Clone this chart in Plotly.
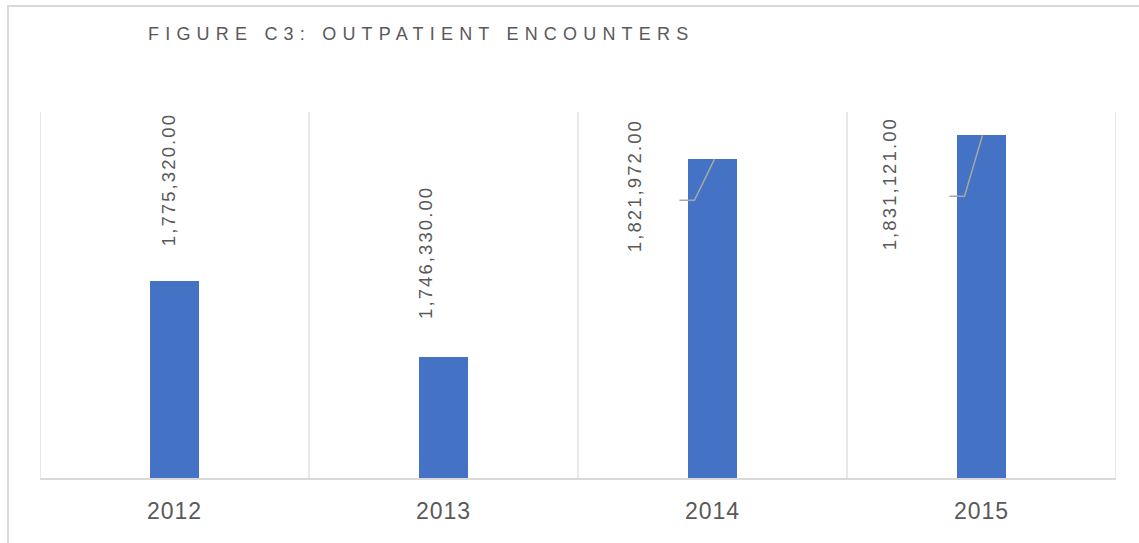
import plotly.graph_objects as go

# ---- data ----
categories = ["2012", "2013", "2014", "2015"]
encounters = [1775320, 1746330, 1821972, 1831121]
label_texts = ["1,775,320.00", "1,746,330.00", "1,821,972.00", "1,831,121.00"]
y_range = [1700000, 1840000]

# ---- layout constants (pixels) ----
W, H = 1139, 543
ML, MR, MT, MB = 40, 23, 112, 65
PW = W - ML - MR
PH = H - MT - MB
px_x = len(categories) / PW             # data units per px (x)
px_y = (y_range[1] - y_range[0]) / PH   # data units per px (y)

BAR = "#4472C4"
TXT = "#595959"
GRID = "#d9d9d9"
FONT = "Liberation Sans"

xs = list(range(len(categories)))

fig = go.Figure()
fig.add_trace(go.Bar(
    x=xs, y=encounters, width=0.185,
    marker=dict(color=BAR, line=dict(width=0)),
    hoverinfo="skip", showlegend=False,
))

# label offsets (pixels): xshift, yshift of label centre relative to bar top
label_offsets = [(-6, 101), (-18, 104), (-78, -27), (-92, -49)]
for i, (txt, (dx, dy)) in enumerate(zip(label_texts, label_offsets)):
    fig.add_annotation(
        x=xs[i], y=encounters[i], xref="x", yref="y",
        text=txt, showarrow=False, textangle=-90,
        xanchor="center", yanchor="middle",
        xshift=dx, yshift=dy,
        font=dict(family=FONT, size=18.5, color=TXT),
    )

# leader lines for displaced labels: (start dx, knee dx, drop px, end dx)
leaders = {2: (-33, -18, 41, 2), 3: (-32, -17, 61, 1)}
for i, (sx, kx, drop, ex) in leaders.items():
    yk = encounters[i] - drop * px_y
    fig.add_trace(go.Scatter(
        x=[xs[i] + sx * px_x, xs[i] + kx * px_x, xs[i] + ex * px_x],
        y=[yk, yk, encounters[i]],
        mode="lines", line=dict(color="#a6a6a6", width=1.5),
        hoverinfo="skip", showlegend=False,
    ))

shapes = []
# vertical category separators
for k in range(len(categories) + 1):
    shapes.append(dict(type="line", xref="x", yref="paper",
                       x0=k - 0.5, x1=k - 0.5, y0=0, y1=1,
                       line=dict(color=GRID, width=1.2), layer="below"))
# outer chart border (cropped at right and bottom)
shapes.append(dict(type="rect", xref="paper", yref="paper",
                   x0=(8 - ML) / PW, x1=(W + 20 - ML) / PW,
                   y0=-(H + 20 - MT - PH) / PH, y1=(MT + PH - 6) / PH,
                   line=dict(color=GRID, width=2), fillcolor="rgba(0,0,0,0)"))

fig.update_layout(
    width=W, height=H,
    margin=dict(l=ML, r=MR, t=MT, b=MB),
    paper_bgcolor="white", plot_bgcolor="white",
    shapes=shapes,
    title=dict(text="FIGURE C3: OUTPATIENT ENCOUNTERS",
               x=(148 - ML) / PW, xref="paper", xanchor="left",
               y=1 - 34 / H, yref="container", yanchor="middle",
               font=dict(family=FONT, size=18, color=TXT)),
    xaxis=dict(range=[-0.5, len(categories) - 0.5],
               tickvals=xs, ticktext=categories,
               showgrid=False, zeroline=False,
               showline=True, linecolor=GRID, linewidth=1.5,
               ticks="", ticklabelstandoff=12,
               tickfont=dict(family=FONT, size=23, color=TXT)),
    yaxis=dict(range=y_range, visible=False, showgrid=False, zeroline=False),
    bargap=0,
)

post = """
document.body.style.margin = '0';
document.body.style.padding = '0';
var gd = document.getElementById('{plot_id}');
function ls(){
  gd.querySelectorAll('.gtitle').forEach(function(e){ e.style.letterSpacing='6.2px'; });
  gd.querySelectorAll('.annotation-text').forEach(function(e){ e.style.letterSpacing='2.1px'; });
  gd.querySelectorAll('.xtick text').forEach(function(e){ e.style.letterSpacing='1px'; });
}
ls();
gd.on('plotly_afterplot', ls);
"""
fig.write_html("out.html", post_script=post, config={"displayModeBar": False})
